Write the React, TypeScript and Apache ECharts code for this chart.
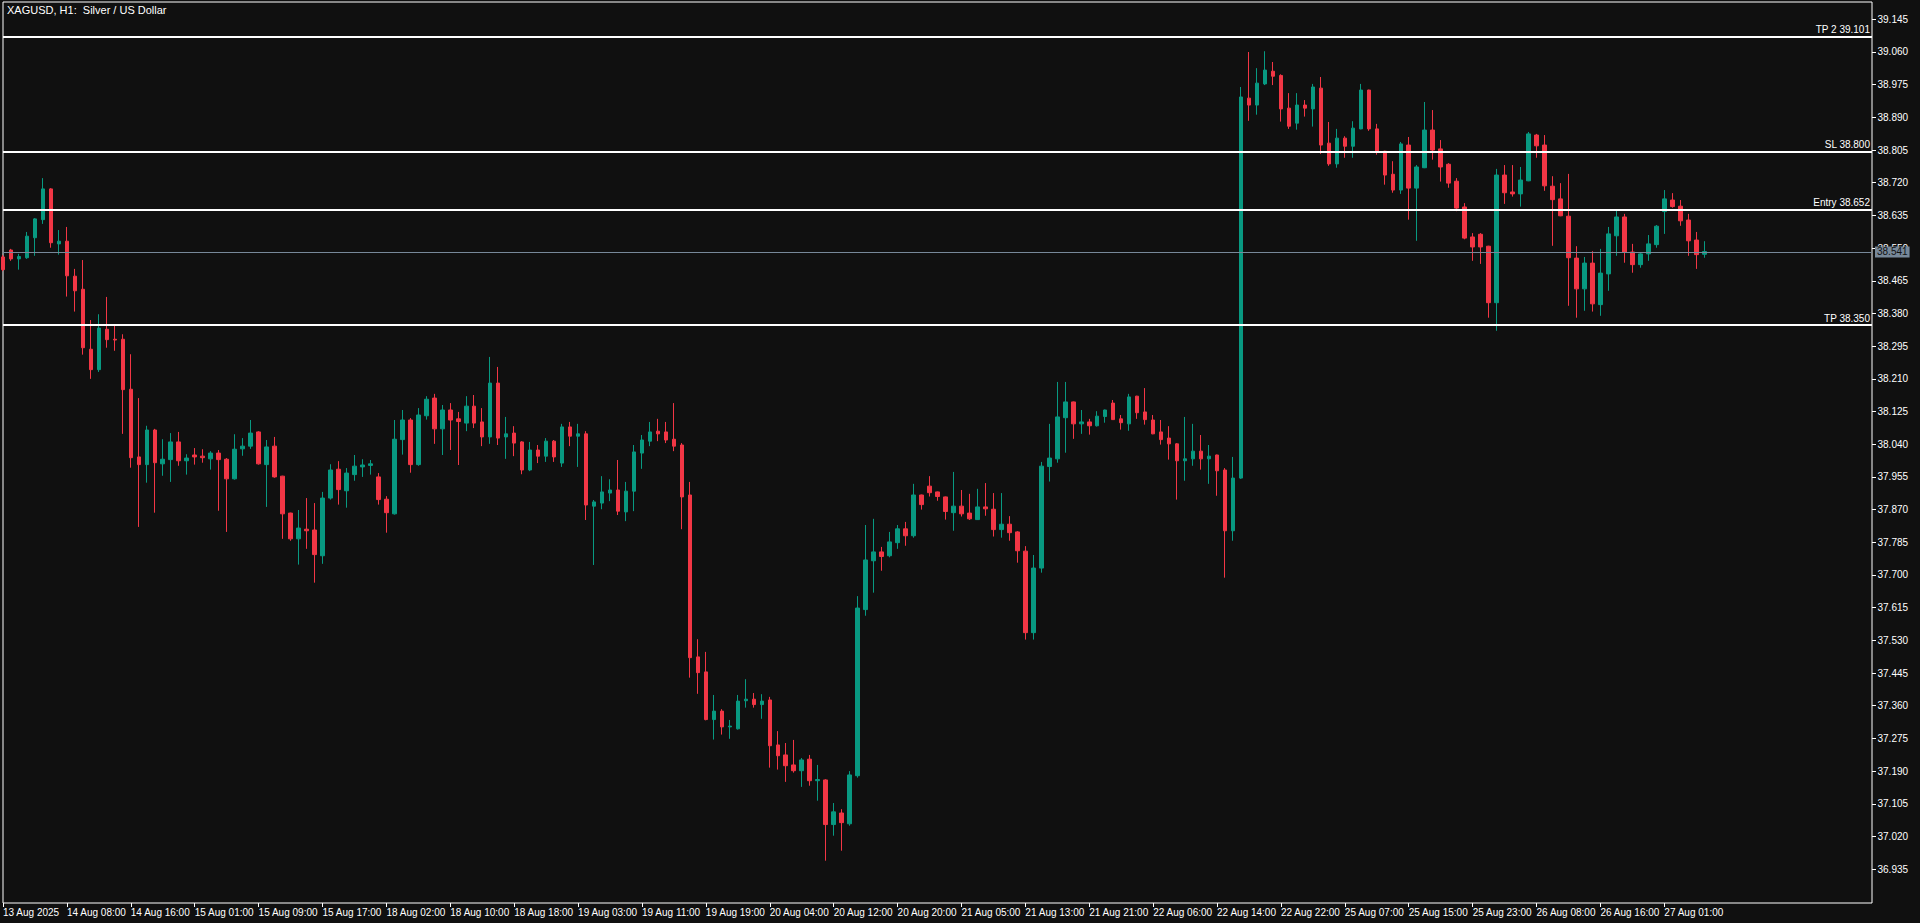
import { useEffect, useRef } from "react";
import * as echarts from "echarts";

const opens = [
  38.527, 38.545, 38.522, 38.525, 38.577, 38.624, 38.704, 38.561, 38.568, 38.477,
  38.443, 38.287, 38.234, 38.339, 38.313, 38.313, 38.183, 38.007, 37.987, 38.077,
  37.989, 38.000, 38.046, 37.997, 38.012, 38.009, 38.002, 38.017, 38.001, 37.950,
  38.028, 38.035, 38.072, 37.987, 38.035, 37.957, 37.861, 37.794, 37.819, 37.817,
  37.750, 37.900, 37.975, 37.919, 37.961, 37.981, 37.985, 37.955, 37.897, 37.859,
  38.052, 38.103, 37.987, 38.114, 38.160, 38.080, 38.129, 38.106, 38.095, 38.139,
  38.098, 38.059, 38.199, 38.059, 38.069, 38.046, 37.973, 38.025, 38.009, 38.048,
  37.991, 38.085, 38.061, 38.067, 37.879, 37.887, 37.913, 37.921, 37.864, 37.918,
  38.017, 38.048, 38.074, 38.072, 38.053, 38.038, 37.908, 37.487, 37.448, 37.324,
  37.346, 37.305, 37.300, 37.373, 37.377, 37.363, 37.375, 37.258, 37.232, 37.206,
  37.191, 37.221, 37.165, 37.167, 37.051, 37.081, 37.053, 37.178, 37.610, 37.737,
  37.760, 37.750, 37.784, 37.820, 37.802, 37.908, 37.931, 37.916, 37.903, 37.862,
  37.879, 37.861, 37.844, 37.877, 37.871, 37.818, 37.832, 37.812, 37.762, 37.550,
  37.718, 37.982, 38.002, 38.109, 38.150, 38.093, 38.098, 38.088, 38.112, 38.147,
  38.106, 38.093, 38.165, 38.124, 38.103, 38.072, 38.056, 38.041, 37.997, 38.002,
  38.022, 38.002, 38.012, 37.973, 37.815, 37.952, 38.940, 38.922, 38.977, 39.010,
  38.999, 38.914, 38.875, 38.922, 38.912, 38.966, 38.823, 38.769, 38.836, 38.815,
  38.860, 38.961, 38.860, 38.802, 38.742, 38.701, 38.818, 38.706, 38.759, 38.857,
  38.808, 38.768, 38.724, 38.657, 38.579, 38.586, 38.555, 38.408, 38.740, 38.696,
  38.691, 38.725, 38.844, 38.818, 38.711, 38.678, 38.633, 38.524, 38.444, 38.511,
  38.403, 38.483, 38.582, 38.631, 38.540, 38.507, 38.535, 38.559, 38.645, 38.675,
  38.659, 38.623, 38.571, 38.534,
];

const highs = [
  38.532, 38.548, 38.535, 38.592, 38.628, 38.732, 38.706, 38.597, 38.605, 38.496,
  38.519, 38.363, 38.378, 38.423, 38.348, 38.326, 38.274, 38.160, 38.088, 38.080,
  38.053, 38.069, 38.072, 38.014, 38.030, 38.027, 38.022, 38.025, 38.004, 38.066,
  38.056, 38.103, 38.074, 38.051, 38.059, 37.958, 37.862, 37.869, 37.900, 37.887,
  37.916, 37.988, 37.996, 37.978, 38.012, 38.001, 37.999, 37.965, 37.905, 38.103,
  38.129, 38.108, 38.134, 38.165, 38.171, 38.142, 38.147, 38.124, 38.165, 38.168,
  38.134, 38.267, 38.241, 38.111, 38.087, 38.048, 38.046, 38.038, 38.056, 38.051,
  38.093, 38.098, 38.093, 38.074, 37.895, 37.957, 37.949, 37.999, 37.942, 38.038,
  38.064, 38.098, 38.106, 38.098, 38.147, 38.043, 37.942, 37.533, 37.500, 37.388,
  37.351, 37.323, 37.388, 37.429, 37.393, 37.390, 37.383, 37.294, 37.263, 37.271,
  37.224, 37.232, 37.206, 37.169, 37.107, 37.091, 37.190, 37.645, 37.830, 37.846,
  37.773, 37.812, 37.830, 37.838, 37.937, 37.909, 37.957, 37.917, 37.904, 37.968,
  37.921, 37.911, 37.924, 37.939, 37.913, 37.913, 37.853, 37.814, 37.775, 37.752,
  37.994, 38.093, 38.202, 38.202, 38.151, 38.129, 38.106, 38.126, 38.130, 38.155,
  38.116, 38.171, 38.166, 38.186, 38.116, 38.103, 38.087, 38.043, 38.111, 38.093,
  38.064, 38.038, 38.013, 37.978, 38.007, 38.969, 39.060, 39.018, 39.062, 39.034,
  39.002, 38.953, 38.953, 38.935, 38.977, 38.995, 38.878, 38.860, 38.841, 38.880,
  38.977, 38.962, 38.873, 38.803, 38.776, 38.826, 38.839, 38.766, 38.930, 38.909,
  38.831, 38.771, 38.732, 38.667, 38.589, 38.589, 38.556, 38.756, 38.766, 38.766,
  38.761, 38.852, 38.847, 38.844, 38.737, 38.719, 38.743, 38.555, 38.527, 38.542,
  38.548, 38.605, 38.649, 38.639, 38.561, 38.537, 38.584, 38.610, 38.701, 38.693,
  38.675, 38.639, 38.592, 38.568,
];

const lows = [
  38.490, 38.517, 38.494, 38.522, 38.530, 38.613, 38.551, 38.533, 38.424, 38.385,
  38.273, 38.210, 38.228, 38.291, 38.283, 38.067, 37.979, 37.825, 37.940, 37.862,
  37.958, 37.942, 37.984, 37.961, 37.987, 37.992, 37.974, 37.867, 37.812, 37.948,
  38.010, 38.028, 37.987, 37.877, 37.953, 37.794, 37.789, 37.727, 37.768, 37.680,
  37.729, 37.896, 37.883, 37.875, 37.945, 37.955, 37.961, 37.883, 37.810, 37.857,
  38.013, 37.966, 37.984, 38.104, 38.041, 38.012, 38.025, 37.986, 38.074, 38.082,
  38.035, 38.041, 38.038, 38.002, 38.009, 37.962, 37.970, 37.991, 37.994, 37.994,
  37.981, 38.035, 37.981, 37.843, 37.726, 37.871, 37.892, 37.856, 37.840, 37.866,
  37.976, 38.035, 38.048, 38.043, 38.022, 37.819, 37.433, 37.391, 37.322, 37.272,
  37.285, 37.274, 37.298, 37.355, 37.355, 37.326, 37.199, 37.194, 37.162, 37.186,
  37.149, 37.152, 37.113, 36.957, 37.022, 36.983, 37.048, 37.173, 37.594, 37.654,
  37.711, 37.746, 37.768, 37.776, 37.797, 37.870, 37.904, 37.893, 37.844, 37.815,
  37.852, 37.843, 37.843, 37.854, 37.800, 37.797, 37.789, 37.732, 37.532, 37.532,
  37.706, 37.943, 37.992, 38.018, 38.054, 38.067, 38.065, 38.086, 38.096, 38.103,
  38.078, 38.075, 38.106, 38.091, 38.066, 38.039, 38.000, 37.896, 37.945, 37.984,
  37.974, 37.937, 37.906, 37.693, 37.789, 37.950, 38.881, 38.897, 38.974, 38.974,
  38.879, 38.860, 38.858, 38.892, 38.866, 38.795, 38.764, 38.759, 38.785, 38.785,
  38.859, 38.855, 38.793, 38.715, 38.694, 38.691, 38.624, 38.569, 38.758, 38.780,
  38.723, 38.707, 38.646, 38.573, 38.517, 38.509, 38.369, 38.335, 38.665, 38.684,
  38.658, 38.724, 38.785, 38.699, 38.556, 38.633, 38.400, 38.369, 38.387, 38.385,
  38.374, 38.439, 38.530, 38.512, 38.486, 38.499, 38.517, 38.551, 38.587, 38.655,
  38.608, 38.530, 38.496, 38.525,
];

const closes = [
  38.494, 38.522, 38.528, 38.581, 38.626, 38.704, 38.564, 38.568, 38.478, 38.439,
  38.291, 38.234, 38.342, 38.312, 38.311, 38.182, 38.005, 37.987, 38.077, 37.992,
  38.001, 38.046, 37.997, 38.004, 38.007, 38.005, 38.017, 38.000, 37.950, 38.027,
  38.035, 38.069, 37.989, 38.033, 37.955, 37.859, 37.794, 37.822, 37.815, 37.753,
  37.900, 37.973, 37.922, 37.965, 37.983, 37.986, 37.989, 37.896, 37.862, 38.053,
  38.103, 37.987, 38.116, 38.157, 38.080, 38.129, 38.103, 38.099, 38.139, 38.095,
  38.059, 38.199, 38.056, 38.067, 38.043, 37.973, 38.025, 38.009, 38.048, 38.007,
  38.085, 38.061, 38.067, 37.882, 37.890, 37.916, 37.921, 37.866, 37.918, 38.020,
  38.051, 38.072, 38.067, 38.051, 38.035, 37.903, 37.485, 37.446, 37.324, 37.346,
  37.305, 37.307, 37.372, 37.377, 37.363, 37.372, 37.256, 37.230, 37.204, 37.191,
  37.219, 37.165, 37.168, 37.051, 37.084, 37.056, 37.180, 37.614, 37.739, 37.760,
  37.748, 37.786, 37.820, 37.802, 37.908, 37.883, 37.914, 37.904, 37.865, 37.879,
  37.859, 37.846, 37.877, 37.872, 37.818, 37.832, 37.810, 37.763, 37.550, 37.718,
  37.983, 38.004, 38.111, 38.150, 38.093, 38.098, 38.088, 38.113, 38.129, 38.104,
  38.096, 38.163, 38.122, 38.104, 38.067, 38.052, 38.041, 37.997, 38.002, 38.022,
  38.002, 38.009, 37.971, 37.815, 37.952, 38.943, 38.922, 38.979, 39.013, 38.997,
  38.912, 38.867, 38.922, 38.914, 38.969, 38.818, 38.769, 38.836, 38.815, 38.862,
  38.961, 38.860, 38.802, 38.740, 38.701, 38.821, 38.706, 38.761, 38.857, 38.805,
  38.761, 38.719, 38.654, 38.576, 38.553, 38.553, 38.408, 38.740, 38.694, 38.691,
  38.727, 38.847, 38.816, 38.712, 38.676, 38.634, 38.525, 38.444, 38.511, 38.405,
  38.485, 38.587, 38.631, 38.539, 38.507, 38.535, 38.561, 38.607, 38.678, 38.658,
  38.621, 38.569, 38.533, 38.541,
];

// trading sessions (broker time): day label, first hour, last hour
const sessions: [string, number, number][] = [
  ["13 Aug", 23, 23],
  ["14 Aug", 1, 23],
  ["15 Aug", 1, 23],
  ["18 Aug", 1, 23],
  ["19 Aug", 1, 23],
  ["20 Aug", 1, 23],
  ["21 Aug", 1, 23],
  ["22 Aug", 1, 23],
  ["25 Aug", 1, 23],
  ["26 Aug", 1, 23],
  ["27 Aug", 1, 23],
  ["28 Aug", 1, 4],
];

const xTickLabels = [
  "13 Aug 2025", "14 Aug 08:00", "14 Aug 16:00", "15 Aug 01:00", "15 Aug 09:00",
  "15 Aug 17:00", "18 Aug 02:00", "18 Aug 10:00", "18 Aug 18:00", "19 Aug 03:00",
  "19 Aug 11:00", "19 Aug 19:00", "20 Aug 04:00", "20 Aug 12:00", "20 Aug 20:00",
  "21 Aug 05:00", "21 Aug 13:00", "21 Aug 21:00", "22 Aug 06:00", "22 Aug 14:00",
  "22 Aug 22:00", "25 Aug 07:00", "25 Aug 15:00", "25 Aug 23:00", "26 Aug 08:00",
  "26 Aug 16:00", "27 Aug 01:00",
];
const X_TICK_STEP = 8;

const yTicks = [
  36.935, 37.02, 37.105, 37.19, 37.275, 37.36, 37.445, 37.53, 37.615, 37.7,
  37.785, 37.87, 37.955, 38.04, 38.125, 38.21, 38.295, 38.38, 38.465, 38.55,
  38.635, 38.72, 38.805, 38.89, 38.975, 39.06, 39.145,
];
const Y_MIN = 36.847;
const Y_MAX = 39.19;

const levelNames = ["TP 2", "SL", "Entry", "TP"];
const levelValues = [39.101, 38.8, 38.652, 38.35];
const lastPrice = 38.541;

const TOTAL_SLOTS = 235;

const UP = "#089981";
const DOWN = "#f23645";
const FONT = "'Liberation Sans', Arial, sans-serif";

function buildCategories(): string[] {
  const out: string[] = [];
  for (const [day, from, to] of sessions) {
    for (let h = from; h <= to; h++) {
      out.push(`${day} ${String(h).padStart(2, "0")}:00`);
    }
  }
  return out.slice(0, TOTAL_SLOTS);
}

export default function App() {
  const ref = useRef<HTMLDivElement>(null);

  useEffect(() => {
    if (!ref.current) return;
    const chart = echarts.init(ref.current, undefined, { renderer: "svg" });
    const categories = buildCategories();
    const candles = opens.map((o, i) => [o, closes[i], lows[i], highs[i]]);
    const showTick = (idx: number) =>
      idx % X_TICK_STEP === 0 && idx / X_TICK_STEP < xTickLabels.length;

    chart.setOption({
      animation: false,
      backgroundColor: "#101010",
      title: {
        text: "XAGUSD, H1:  Silver / US Dollar",
        left: 7,
        top: 4,
        padding: 0,
        textStyle: { color: "#ffffff", fontSize: 11, fontWeight: "normal", fontFamily: FONT },
      },
      grid: {
        left: 2,
        right: 48,
        top: 2,
        bottom: 20,
        show: true,
        borderColor: "#ffffff",
        borderWidth: 1,
        backgroundColor: "transparent",
      },
      xAxis: {
        type: "category",
        data: categories,
        boundaryGap: false,
        axisLine: { show: false },
        axisTick: {
          show: true,
          interval: (idx: number) => showTick(idx),
          length: 4,
          lineStyle: { color: "#ffffff" },
        },
        axisLabel: {
          interval: (idx: number) => showTick(idx),
          formatter: (_v: string, idx: number) => xTickLabels[idx / X_TICK_STEP] ?? "",
          align: "left",
          margin: 4,
          color: "#ffffff",
          fontSize: 10,
          fontFamily: FONT,
        },
        splitLine: { show: false },
      },
      yAxis: [
        {
          // price labels
          type: "value",
          position: "right",
          offset: 4,
          min: Y_MIN,
          max: Y_MAX,
          scale: true,
          splitLine: { show: false },
          axisLine: { show: false },
          axisTick: { show: false },
          axisLabel: {
            customValues: yTicks,
            formatter: (v: number) => v.toFixed(3),
            margin: 1.5,
            color: "#ffffff",
            fontSize: 10,
            fontFamily: FONT,
          },
        },
        {
          // price tick marks
          type: "value",
          position: "right",
          offset: 0,
          min: Y_MIN,
          max: Y_MAX,
          scale: true,
          splitLine: { show: false },
          axisLine: { show: false },
          axisTick: {
            show: true,
            customValues: yTicks,
            length: 4,
            lineStyle: { color: "#ffffff" },
          },
          axisLabel: { show: false },
        },
      ],
      series: [
        {
          type: "candlestick",
          data: candles,
          barWidth: 4,
          itemStyle: {
            color: UP,
            color0: DOWN,
            borderColor: UP,
            borderColor0: DOWN,
            borderWidth: 1,
          },
          markLine: {
            symbol: ["none", "none"],
            silent: true,
            animation: false,
            data: [
              ...levelValues.map((v, i) => ({
                yAxis: v,
                lineStyle: { color: "#ffffff", width: 2, type: "solid" },
                label: {
                  show: true,
                  position: "insideEndTop",
                  formatter: `${levelNames[i]} ${v.toFixed(3)}`,
                  color: "#ffffff",
                  fontSize: 10,
                  fontFamily: FONT,
                  distance: [2, 2],
                },
              })),
              {
                yAxis: lastPrice,
                lineStyle: { color: "#778899", width: 1, type: "solid" },
                label: {
                  show: true,
                  position: "end",
                  formatter: lastPrice.toFixed(3),
                  color: "#111111",
                  backgroundColor: "#778899",
                  padding: [1, 2, 0, 2],
                  distance: 3,
                  fontSize: 10,
                  fontFamily: FONT,
                },
              },
            ],
          },
        },
      ],
    });

    return () => chart.dispose();
  }, []);

  return (
    <div
      ref={ref}
      style={{ position: "fixed", left: 0, top: 0, width: 1920, height: 923 }}
    />
  );
}
